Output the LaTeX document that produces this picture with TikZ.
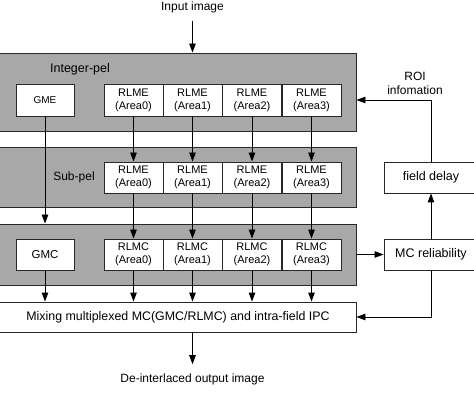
\documentclass[tikz,border=0pt]{standalone}
\usepackage{fontspec}
\setmainfont{Liberation Sans}
\usetikzlibrary{arrows.meta}
\definecolor{band}{RGB}{168,168,168}
\definecolor{edge}{RGB}{40,40,40}
\begin{document}
\begin{tikzpicture}[x=1pt,y=-1pt,
  txt/.style={font=\fontsize{12}{14}\selectfont, inner sep=0pt, align=center},
  bandbox/.style={draw=edge, line width=0.9pt, fill=band, inner sep=0pt, minimum width=361pt},
  wbox/.style={draw=edge, line width=0.9pt, fill=white, inner sep=0pt, align=center},
  areabox/.style={wbox, minimum width=59pt, font=\fontsize{11}{13}\selectfont},
  arr/.style={draw=black, line width=0.9pt, -{Triangle[length=9pt,width=6.5pt]}}
]
\useasboundingbox (0,0) rectangle (474,414);
\clip (0,0) rectangle (474,414);
\fill[white] (0,0) rectangle (474,414);

% bands
\node[bandbox, minimum height=78pt] (b1) at (175.5,92) {};
\node[bandbox, minimum height=60pt] (b2) at (175.5,177) {};
\node[bandbox, minimum height=61pt] (b3) at (175.5,254.5) {};
\node[wbox, minimum width=361pt, minimum height=30pt] (mix) at (175.5,317) {};
\node[txt, font=\fontsize{12.4}{14}\selectfont] (mixt) at (178,317) {Mixing multiplexed MC(GMC/RLMC) and intra-field IPC};

\node[txt, font=\fontsize{12.5}{14}\selectfont] (ip) at (80,69) {Integer-pel};
\node[txt] (sp) at (74,177) {Sub-pel};

% integer-pel row
\node[wbox, minimum width=58pt, minimum height=32pt, font=\fontsize{10}{12}\selectfont] (gme) at (45,100) {GME};
\node[areabox, minimum height=32pt] (a0) at (133.5,100) {RLME\\(Area0)};
\node[areabox, minimum height=32pt] (a1) at (192.5,100) {RLME\\(Area1)};
\node[areabox, minimum height=32pt] (a2) at (252,100) {RLME\\(Area2)};
\node[areabox, minimum height=32pt] (a3) at (311.5,100) {RLME\\(Area3)};

% sub-pel row
\node[areabox, minimum height=31pt] (s0) at (133.5,177.5) {RLME\\(Area0)};
\node[areabox, minimum height=31pt] (s1) at (192.5,177.5) {RLME\\(Area1)};
\node[areabox, minimum height=31pt] (s2) at (252,177.5) {RLME\\(Area2)};
\node[areabox, minimum height=31pt] (s3) at (311.5,177.5) {RLME\\(Area3)};

% MC row
\node[wbox, minimum width=58pt, minimum height=31pt, font=\fontsize{11.5}{13}\selectfont] (gmc) at (45,254.5) {GMC};
\node[areabox, minimum height=31pt] (c0) at (133.5,254.5) {RLMC\\(Area0)};
\node[areabox, minimum height=31pt] (c1) at (192.5,254.5) {RLMC\\(Area1)};
\node[areabox, minimum height=31pt] (c2) at (252,254.5) {RLMC\\(Area2)};
\node[areabox, minimum height=31pt] (c3) at (311.5,254.5) {RLMC\\(Area3)};

% right side
\node[wbox, minimum width=94pt, minimum height=31pt, font=\fontsize{12.5}{14}\selectfont] (fd) at (431,177.5) {field delay};
\node[wbox, minimum width=94pt, minimum height=31pt, font=\fontsize{12.5}{14}\selectfont] (mcr) at (431,254.5) {MC reliability};

% texts
\node[txt] (in) at (192.5,7) {Input image};
\node[txt] (out) at (192.5,379) {De-interlaced output image};
\node[txt] (roi) at (415,83) {ROI\\infomation};
\coordinate (roiy) at (431,100);

% arrows
\draw[arr] ([yshift=-8pt]in.south) -- (in.south |- b1.north);
\draw[arr] (fd.north) |- (b1.east |- roiy);
\draw[arr] (gme.south) -- (gme.south |- b3.north);
\foreach \i in {0,1,2,3}{
  \draw[arr] (a\i.south) -- (s\i.north);
  \draw[arr] (s\i.south) -- (c\i.north);
  \draw[arr] (c\i.south) -- (c\i.south |- mix.north);
}
\draw[arr] (gmc.south) -- (gmc.south |- mix.north);
\draw[arr] (mcr.north) -- (fd.south);
\draw[arr] (b3.east |- mcr.west) -- (mcr.west);
\draw[arr] (mcr.south) |- (mix.east);
\draw[arr] (mix.south -| out.north) -- ([yshift=9pt]out.north);
\end{tikzpicture}
\end{document}
